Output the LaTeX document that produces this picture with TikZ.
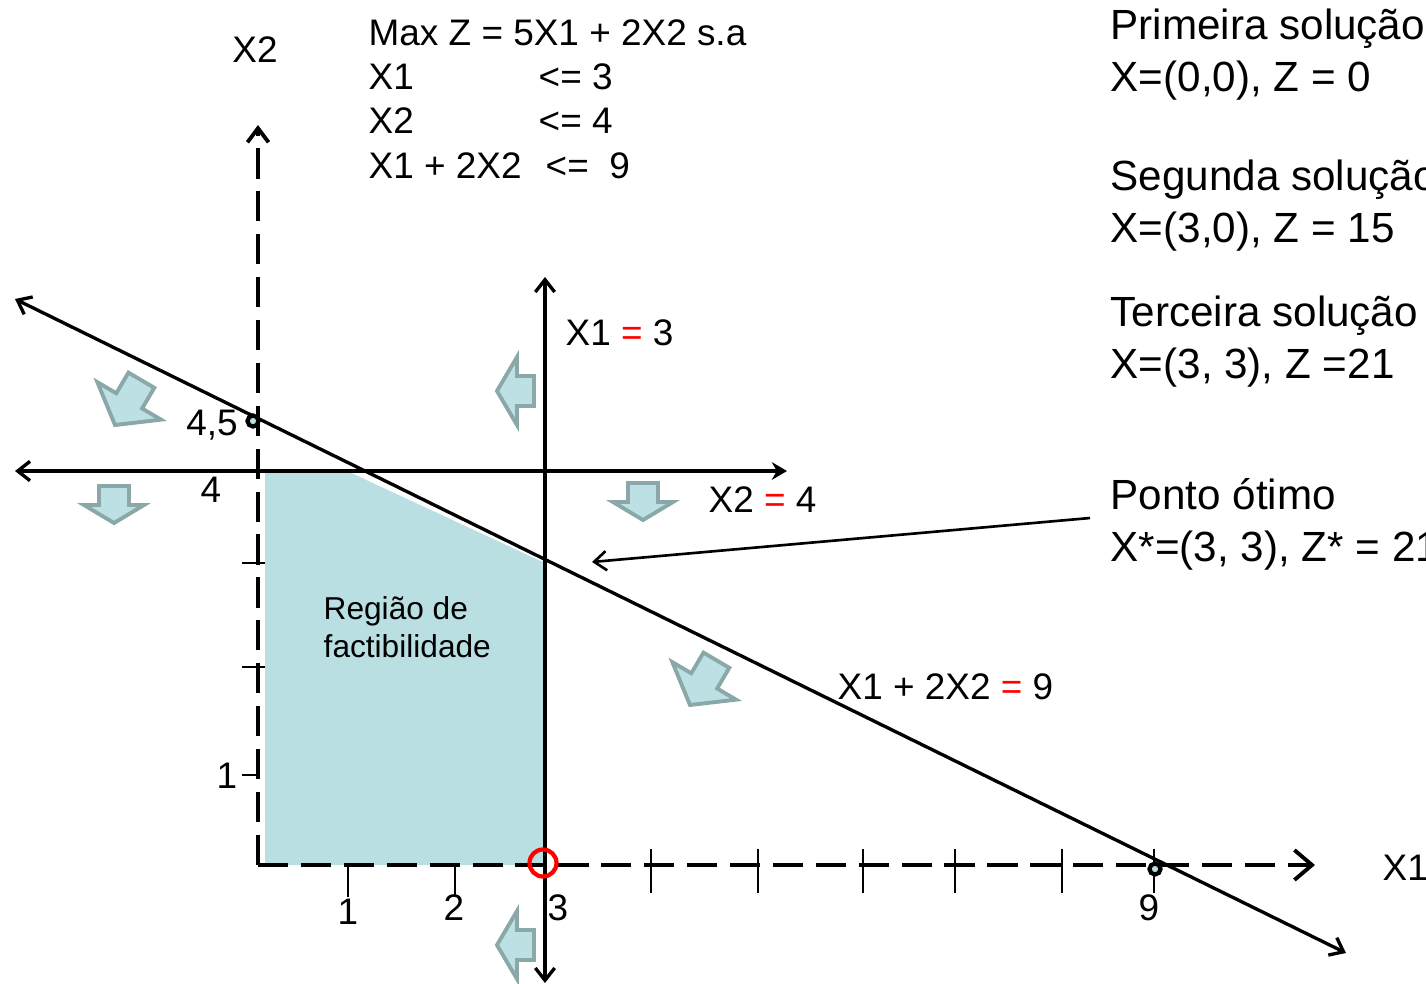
\documentclass[tikz,border=0pt]{standalone}
\usepackage{fontspec}
\setmainfont{Liberation Sans}
\usetikzlibrary{arrows.meta}
\definecolor{feasible}{HTML}{BADFE3}
\definecolor{hintfill}{HTML}{BCE0E4}
\definecolor{hintline}{HTML}{8BA8A9}
\definecolor{eqred}{HTML}{FF0000}
\newcommand{\redeq}{\textcolor{eqred}{=}}

\begin{document}
\begin{tikzpicture}[x=0.01cm, y=-0.01cm,
  lbl/.style={inner sep=0pt, font=\fontsize{10.5}{12.6}\selectfont},
  sol/.style={inner sep=0pt, anchor=west, align=left, font=\fontsize{12}{14.8}\selectfont},
  axis/.style={line width=1.1pt, dash pattern=on 8.6pt off 3.6pt},
  bound/.style={line width=0.95pt, {Straight Barb[length=3.5pt,width=5.5pt]}-{Straight Barb[length=3.5pt,width=5.5pt]}},
  axtick/.style={line width=0.7pt},
  hint/.style={draw=hintline, fill=hintfill, line width=1.1pt},
  vtx/.style={circle, draw, line width=1.2pt, fill=feasible, inner sep=0pt, minimum size=0.11cm},
  ptr/.style={line width=0.75pt, -{Straight Barb[length=3.5pt,width=5.5pt]}}
]
  \useasboundingbox (0,0) rectangle (1426,984);
  \clip (0,0) rectangle (1426,984);

  % feasible region
  \fill[feasible] (265,471) -- (347,471) -- (545,563) -- (545,865) -- (265,865) -- cycle;
  \node[anchor=west, align=left, inner sep=0pt, font=\fontsize{9}{10.8}\selectfont] (reg) at (323,627) {Região de\\factibilidade};

  % axes and ticks
  \draw[axis, -{Straight Barb[length=5pt,width=8.5pt]}] (258,865) -- (1315,865);
  \draw[axis, -{Straight Barb[length=4pt,width=6pt]}] (258,865) -- (258,125);
  \foreach \x in {651,758,863,955,1062,1154} \draw[axtick] (\x,849) -- (\x,893);
  \foreach \x in {348,455} \draw[axtick] (\x,865) -- (\x,897);
  \foreach \y in {563,667} \draw[axtick] (242,\y) -- (265,\y);
  \draw[axtick] (242,775) -- (260,775);

  % constraints
  \draw[bound] (15,299) -- (1346,953);
  \draw[line width=0.95pt, {Straight Barb[length=3.5pt,width=5.5pt]}-{Stealth[length=4.3pt,width=5pt]}] (15,471) -- (787,471);
  \draw[bound] (545,277) -- (545,983);

  \node[vtx] (p45) at (253,421) {};
  \node[vtx] (p9) at (1155,869) {};
  \node[circle, draw=eqred, line width=1.2pt, minimum size=0.27cm, inner sep=0pt] (best) at (543,863) {};

  % direction hints
  \foreach \tx/\ty/\ang/\L/\h/\W in {115/425/-120.5/52/28/74, 497/391/180/37/20/68, 114/523/-90/37/18/60,
      643/520/-90/37/18/60, 690/705/-120.5/52/28/74, 497/945/180/37/20/68}
    \draw[hint, shift={(\tx,\ty)}, rotate=\ang] (0,0) -- (-\h,\W/2) -- (-\h,15) -- (-\L,15)
      -- (-\L,-15) -- (-\h,-15) -- (-\h,-\W/2) -- cycle;

  % labels
  \node[lbl] (x2lab) at (255,50) {X2};
  \node[lbl, anchor=west] (x1lab) at (1382,868) {X1};
  \node[lbl] (t45) at (212,425) {4,5};
  \node[lbl] (t4) at (211,490) {4};
  \node[lbl] (ty1) at (227,776) {1};
  \node[lbl] (tx1) at (348,912) {1};
  \node[lbl] (tx2) at (454,908) {2};
  \node[lbl] (tx3) at (558,908) {3};
  \node[lbl] (tx9) at (1149,908) {9};
  \node[lbl, anchor=west] (l1) at (565,333) {X1 \redeq{} 3};
  \node[lbl, anchor=west] (l2) at (708,500) {X2 \redeq{} 4};
  \node[lbl, anchor=west] (l3) at (837,687) {X1 + 2X2 \redeq{} 9};

  % model
  \node[lbl, anchor=west] (obj) at (368,33) {Max Z = 5X1 + 2X2 s.a};
  \node[lbl, anchor=west] (c1) at (368,77) {X1};
  \node[lbl, anchor=west] (c1r) at (538,77) {<= 3};
  \node[lbl, anchor=west] (c2) at (368,121) {X2};
  \node[lbl, anchor=west] (c2r) at (538,121) {<= 4};
  \node[lbl, anchor=west] (c3) at (368,166) {X1 + 2X2};
  \node[lbl, anchor=west] (c3r) at (545,166) {<= \ 9};

  % solutions
  \node[sol] (sol1) at (1110,55) {Primeira solução\\X=(0,0), Z = 0};
  \node[sol] (sol2) at (1110,206) {Segunda solução\\X=(3,0), Z = 15};
  \node[sol] (sol3) at (1110,342) {Terceira solução\\X=(3, 3), Z =21};
  \node[sol] (otimo) at (1110,524) {Ponto ótimo\\X*=(3, 3), Z* = 21};
  \coordinate (otsrc) at (1090,518);
  \coordinate (ottip) at (592,562);
  \draw[ptr] (otsrc) -- (ottip);
\end{tikzpicture}
\end{document}
